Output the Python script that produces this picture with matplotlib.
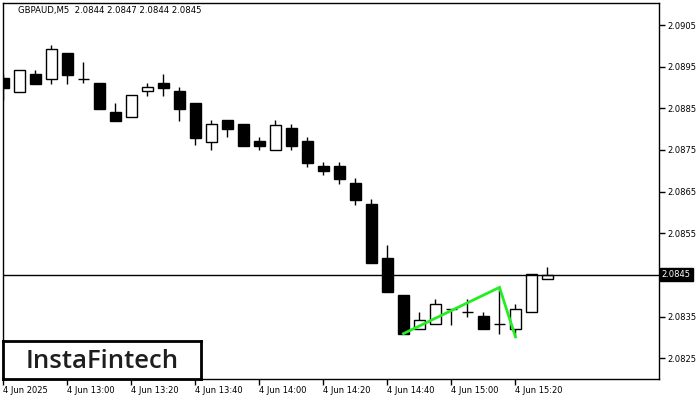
import matplotlib
matplotlib.use("Agg")
import matplotlib.pyplot as plt
from matplotlib.patches import Rectangle

# ---- data (GBPAUD M5, 4 Jun 2025 from 12:40) ----
opens  = [2.08924, 2.08890, 2.08932, 2.08920, 2.08983, 2.08920, 2.08911, 2.08841, 2.08829, 2.08891,
          2.08911, 2.08891, 2.08863, 2.08770, 2.08822, 2.08812, 2.08771, 2.08750, 2.08803, 2.08771,
          2.08711, 2.08711, 2.08670, 2.08620, 2.08490, 2.08401, 2.08319, 2.08331, 2.08369, 2.08360,
          2.08351, 2.08331, 2.08319, 2.08361, 2.08440]
highs  = [2.08932, 2.08942, 2.08942, 2.09002, 2.08983, 2.08961, 2.08911, 2.08863, 2.08882, 2.08911,
          2.08932, 2.08901, 2.08863, 2.08822, 2.08822, 2.08812, 2.08781, 2.08822, 2.08812, 2.08781,
          2.08721, 2.08721, 2.08682, 2.08632, 2.08521, 2.08401, 2.08361, 2.08392, 2.08369, 2.08392,
          2.08360, 2.08420, 2.08380, 2.08451, 2.08470]
lows   = [2.08870, 2.08890, 2.08908, 2.08908, 2.08908, 2.08911, 2.08848, 2.08819, 2.08829, 2.08879,
          2.08879, 2.08819, 2.08761, 2.08750, 2.08780, 2.08760, 2.08750, 2.08750, 2.08750, 2.08710,
          2.08690, 2.08669, 2.08619, 2.08479, 2.08409, 2.08309, 2.08319, 2.08331, 2.08330, 2.08349,
          2.08319, 2.08309, 2.08301, 2.08361, 2.08440]
closes = [2.08900, 2.08942, 2.08908, 2.08992, 2.08930, 2.08920, 2.08848, 2.08819, 2.08882, 2.08901,
          2.08899, 2.08848, 2.08779, 2.08812, 2.08800, 2.08760, 2.08760, 2.08811, 2.08760, 2.08719,
          2.08700, 2.08681, 2.08630, 2.08479, 2.08409, 2.08309, 2.08341, 2.08379, 2.08369, 2.08360,
          2.08319, 2.08331, 2.08369, 2.08451, 2.08450]

xtick_pos = [0, 4, 8, 12, 16, 20, 24, 28, 32]
xtick_labels = ["4 Jun 2025", "4 Jun 13:00", "4 Jun 13:20", "4 Jun 13:40", "4 Jun 14:00",
                "4 Jun 14:20", "4 Jun 14:40", "4 Jun 15:00", "4 Jun 15:20"]
ytick_vals = [2.0825, 2.0835, 2.0855, 2.0865, 2.0875, 2.0885, 2.0895, 2.0905]

current_price = 2.0845
pattern_idx = [25, 31, 32]
pattern_prices = [2.08309, 2.08420, 2.08301]

title_text = "GBPAUD,M5  2.0844 2.0847 2.0844 2.0845"

# ---- figure ----
W, H = 700, 400
fig = plt.figure(figsize=(7, 4), dpi=100)
fig.patch.set_facecolor("white")
ax = fig.add_axes([3 / W, 1 - 379 / H, (659 - 3) / W, (379 - 3) / H])
ax.set_facecolor("white")

body_w = 0.66
for i, (o, h, l, c) in enumerate(zip(opens, highs, lows, closes)):
    ax.vlines(i, l, h, color="black", linewidth=1.0, zorder=2)
    if abs(c - o) < 1e-6:
        ax.hlines(o, i - body_w / 2, i + body_w / 2, color="black", linewidth=1.0, zorder=3)
    else:
        bull = c > o
        ax.add_patch(Rectangle((i - body_w / 2, min(o, c)), body_w, abs(c - o),
                               facecolor="white" if bull else "black",
                               edgecolor="black", linewidth=1.0, zorder=3))

ax.axhline(current_price, color="black", linewidth=1.0, zorder=4)
ax.plot(pattern_idx, pattern_prices, color="#22ee22", linewidth=2.0, zorder=5,
        solid_joinstyle="miter")

ax.set_xlim(-0.03, 40.97)
ax.set_ylim(2.08200, 2.09103)

for s in ax.spines.values():
    s.set_color("black")
    s.set_linewidth(1.0)

ax.yaxis.tick_right()
ax.set_yticks(ytick_vals)
ax.set_yticklabels([f"{v:.4f}" for v in ytick_vals])
ax.tick_params(axis="y", direction="out", length=4, width=1, pad=2, labelsize=6, colors="black")
ax.set_xticks(xtick_pos)
ax.set_xticklabels(xtick_labels, ha="left")
ax.tick_params(axis="x", direction="out", length=4, width=1, pad=1, labelsize=6, colors="black")
for lab in ax.get_xticklabels():
    lab.set_horizontalalignment("left")

# current price box
ax.text(1.004, current_price, f"{current_price:.4f}", transform=ax.get_yaxis_transform(),
        ha="left", va="center", fontsize=6, color="white", zorder=10,
        bbox=dict(boxstyle="square,pad=0.25", facecolor="black", edgecolor="black"), clip_on=False)

# title
fig.text(18 / W, 1 - 11 / H, title_text, ha="left", va="center", fontsize=6.1, color="black")

# logo
logo_ax = fig.add_axes([3 / W, 1 - 379 / H, (201 - 3) / W, (379 - 341) / H])
logo_ax.set_xticks([]); logo_ax.set_yticks([])
logo_ax.set_facecolor("white")
for s in logo_ax.spines.values():
    s.set_linewidth(2.0)
    s.set_color("black")
logo_ax.text(0.5, 0.47, "InstaFintech", ha="center", va="center", fontsize=18.5,
             family="Open Sans", fontweight="semibold", color="#1e1e1e",
             transform=logo_ax.transAxes)

fig.savefig("out.png", dpi=100, facecolor="white")
